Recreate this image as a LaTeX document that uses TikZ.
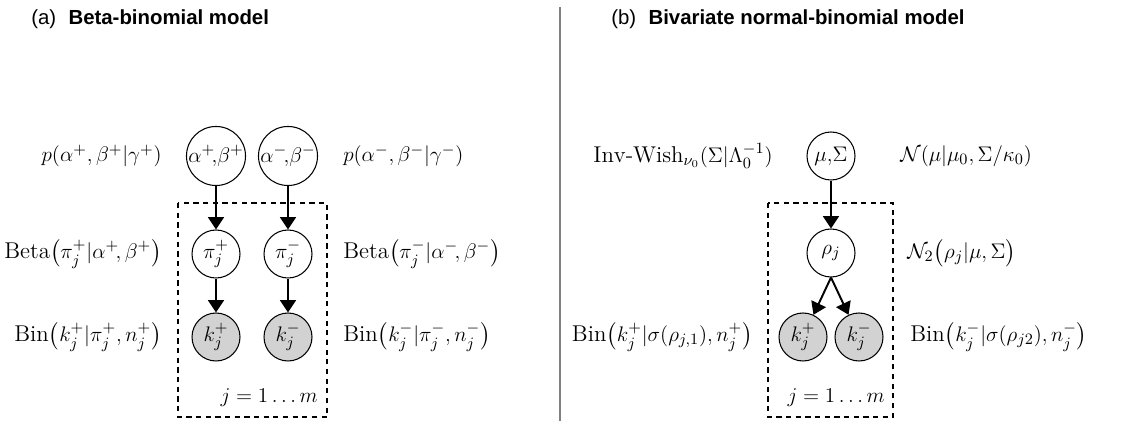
\documentclass[tikz,border=0pt]{standalone}
\usepackage{amsmath,amssymb}
\usepackage{fontspec}
\newfontfamily\titlefont{Liberation Sans}
\usepackage{tikz}
\usetikzlibrary{arrows.meta}
\tikzset{
  latent/.style={
    draw,
    circle,
    minimum size=0.96cm,
    inner sep=0pt,
    line width=0.6pt,
    fill=white,
    font=\fontsize{13}{15}\selectfont,
  },
  observed/.style={
    latent,
    fill=gray!35,
  },
  edge/.style={line width=1.1pt, -{Triangle[length=7pt,width=9pt]}},
  plate/.style={draw, line width=0.6pt, dash pattern=on 3pt off 2.5pt},
  dist/.style={font=\fontsize{13}{15}\selectfont, inner sep=0pt},
  paneltitle/.style={font=\titlefont\fontsize{11.6}{14}\selectfont, anchor=west, inner sep=0pt},
  divider/.style={draw=gray, line width=1.2pt},
}

\begin{document}
\begin{tikzpicture}[x=0.02cm, y=-0.02cm]
  \useasboundingbox (0,0) rectangle (1125,421);
  \node[paneltitle] (ta) at (31,19) {(a)\hspace{7pt}\textbf{Beta-binomial model}};
  \node[paneltitle] (tb) at (611,19) {(b)\hspace{7pt}\textbf{Bivariate normal-binomial model}};
  \coordinate (divtop) at (560,7);
  \coordinate (divbot) at (560,421);
  \draw[divider] (divtop) -- (divbot);

  \draw[plate] (178,203) rectangle (327,417);
  \node[latent] (abp) at (216,156) {$\alpha^{+}\!,\!\beta^{+}$};
  \node[latent] (abm) at (288,156) {$\alpha^{-}\!,\!\beta^{-}$};
  \node[latent] (pip) at (216,254) {$\pi_j^{+}$};
  \node[latent] (pim) at (288,254) {$\pi_j^{-}$};
  \node[observed] (kp) at (216,337) {$k_j^{+}$};
  \node[observed] (km) at (288,337) {$k_j^{-}$};
  \draw[edge] (abp) -- (pip);
  \draw[edge] (abm) -- (pim);
  \draw[edge] (pip) -- (kp);
  \draw[edge] (pim) -- (km);
  \node[dist, anchor=east] (pabp) at (162,156) {$p(\alpha^{+},\beta^{+}|\gamma^{+})$};
  \node[dist, anchor=east] (bpip) at (162,254) {$\mathrm{Beta}\bigl(\pi_j^{+}|\alpha^{+}\!,\beta^{+}\bigr)$};
  \node[dist, anchor=east] (bkp) at (162,337) {$\mathrm{Bin}\bigl(k_j^{+}|\pi_j^{+},n_j^{+}\bigr)$};
  \node[dist, anchor=west] (pabm) at (343,156) {$p(\alpha^{-},\beta^{-}|\gamma^{-})$};
  \node[dist, anchor=west] (bpim) at (343,254) {$\mathrm{Beta}\bigl(\pi_j^{-}|\alpha^{-}\!,\beta^{-}\bigr)$};
  \node[dist, anchor=west] (bkm) at (343,337) {$\mathrm{Bin}\bigl(k_j^{-}|\pi_j^{-},n_j^{-}\bigr)$};
  \node[dist, anchor=east] (ja) at (318,398) {$j=1\ldots m$};

  \draw[plate] (768,203) rectangle (893,417);
  \node[latent] (ms) at (831,156) {$\mu,\!\Sigma$};
  \node[latent] (rho) at (831,253) {$\rho_j$};
  \node[observed] (kbp) at (803,337) {$k_j^{+}$};
  \node[observed] (kbm) at (859,337) {$k_j^{-}$};
  \draw[edge] (ms) -- (rho);
  \draw[edge] (rho.south) -- (kbp);
  \draw[edge] (rho.south) -- (kbm);
  \node[dist, anchor=east] (iw) at (773,156) {$\mathrm{Inv\text{-}Wish}_{\nu_0}(\Sigma|\Lambda_0^{-1})$};
  \node[dist, anchor=west] (nmu) at (900,156) {$\mathcal{N}(\mu|\mu_0,\Sigma/\kappa_0)$};
  \node[dist, anchor=west] (nrho) at (907,253) {$\mathcal{N}_2\bigl(\rho_j|\mu,\Sigma\bigr)$};
  \node[dist, anchor=east] (bkbp) at (753,337) {$\mathrm{Bin}\bigl(k_j^{+}|\sigma(\rho_{j,1}),n_j^{+}\bigr)$};
  \node[dist, anchor=west] (bkbm) at (910,337) {$\mathrm{Bin}\bigl(k_j^{-}|\sigma(\rho_{j2}),n_j^{-}\bigr)$};
  \node[dist, anchor=east] (jb) at (885,398) {$j=1\ldots m$};
\end{tikzpicture}
\end{document}
